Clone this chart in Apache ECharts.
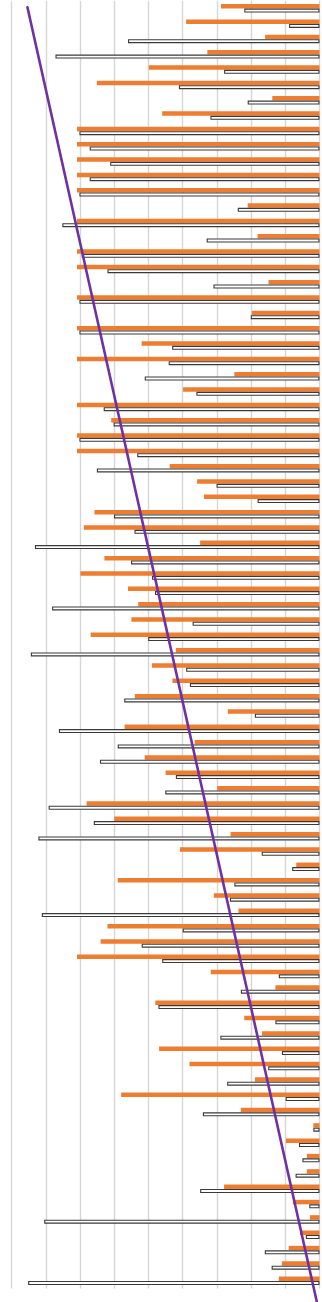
<!DOCTYPE html>
<html>
<head>
<meta charset="utf-8">
<script src="https://cdn.jsdelivr.net/npm/echarts@6/dist/echarts.min.js"></script>
<style>
html,body{margin:0;padding:0;background:#fff;}
#chart{width:322px;height:1302px;}
</style>
</head>
<body>
<div id="chart"></div>
<script>
// Categories (rows, top to bottom)
var categories = [];
for (var i = 1; i <= 84; i++) categories.push(String(i));

// Orange series values
var orangeValues = [
  2.88, 3.90, 1.59, 3.28, 4.99, 6.51, 1.38, 4.60, 7.09, 7.09,
  7.09, 7.09, 7.09, 2.10, 7.09, 1.81, 7.09, 7.09, 1.49, 7.09,
  1.98, 7.09, 5.20, 7.09, 2.49, 3.99, 7.09, 6.09, 7.09, 7.09,
  4.38, 3.58, 3.38, 6.58, 6.89, 3.49, 6.29, 6.99, 5.60, 5.30,
  5.50, 6.69, 4.20, 4.90, 4.30, 5.40, 2.68, 5.70, 3.65, 5.11,
  4.50, 2.99, 6.81, 6.00, 2.60, 4.08, 0.68, 5.90, 3.09, 2.37,
  6.20, 6.40, 7.09, 3.18, 1.29, 4.80, 2.20, 1.68, 4.69, 3.80,
  1.89, 5.80, 2.30, 0.18, 0.98, 0.37, 0.37, 2.79, 0.78, 0.28,
  0.57, 0.90, 1.10, 1.19
];

// White (outlined) series values
var whiteValues = [
  2.20, 0.89, 5.60, 7.72, 2.79, 4.11, 2.10, 3.19, 7.02, 6.72,
  6.12, 6.72, 7.02, 2.39, 7.52, 3.30, 6.95, 6.20, 3.10, 7.02,
  2.01, 7.02, 4.31, 4.41, 5.11, 3.60, 6.31, 6.02, 7.02, 5.33,
  6.51, 3.01, 1.81, 6.01, 5.41, 8.32, 5.51, 4.90, 4.81, 7.82,
  3.71, 5.01, 8.44, 3.90, 3.79, 5.71, 1.89, 7.62, 5.90, 6.42,
  4.20, 4.51, 7.92, 6.60, 8.22, 1.69, 0.80, 2.49, 2.62, 8.12,
  4.00, 5.20, 4.60, 1.19, 2.30, 4.71, 1.29, 2.90, 1.10, 1.50,
  2.70, 0.99, 3.41, 0.18, 0.60, 0.50, 0.70, 3.49, 0.30, 8.05,
  0.40, 1.60, 1.40, 8.52
];

// Trend line end points: [value, row position]
var trendValues = [8.54, 0.08];
var trendRows = [0.43, 84.85];

// Value axis ticks
var axisMin = 0, axisMax = 9, axisStep = 1;

var trendData = trendValues.map(function (v, k) { return [v, trendRows[k]]; });

var chart = echarts.init(document.getElementById('chart'), null, {renderer: 'canvas'});
chart.setOption({
  animation: false,
  backgroundColor: '#ffffff',
  grid: {left: 11.7, right: 2.5, top: 0.63, bottom: 13.6, containLabel: false},
  xAxis: {
    type: 'value', inverse: true, min: axisMin, max: axisMax, interval: axisStep,
    axisLabel: {show: false}, axisTick: {show: false}, axisLine: {show: false},
    splitLine: {show: true, lineStyle: {color: '#d6d6d6', width: 1.4}}
  },
  yAxis: [{
    type: 'category', inverse: true, data: categories,
    axisLabel: {show: false}, axisTick: {show: false}, axisLine: {show: false},
    splitLine: {show: false}
  }, {
    type: 'value', inverse: true, min: 0, max: categories.length, show: false,
    splitLine: {show: false}
  }],
  series: [{
    type: 'bar', name: 'orange', data: orangeValues, barWidth: 4.5, barGap: '0%',
    itemStyle: {color: '#ed7d31'}
  }, {
    type: 'bar', name: 'white', data: whiteValues, barWidth: 4, barGap: '0%',
    itemStyle: {color: '#ffffff', borderColor: '#3a3a3a', borderWidth: 1.1}
  }, {
    type: 'line', name: 'trend', data: trendData, xAxisIndex: 0, yAxisIndex: 1,
    symbol: 'none', clip: false,
    lineStyle: {color: '#7030a0', width: 2.6, cap: 'round'}, z: 5
  }]
});
</script>
</body>
</html>
